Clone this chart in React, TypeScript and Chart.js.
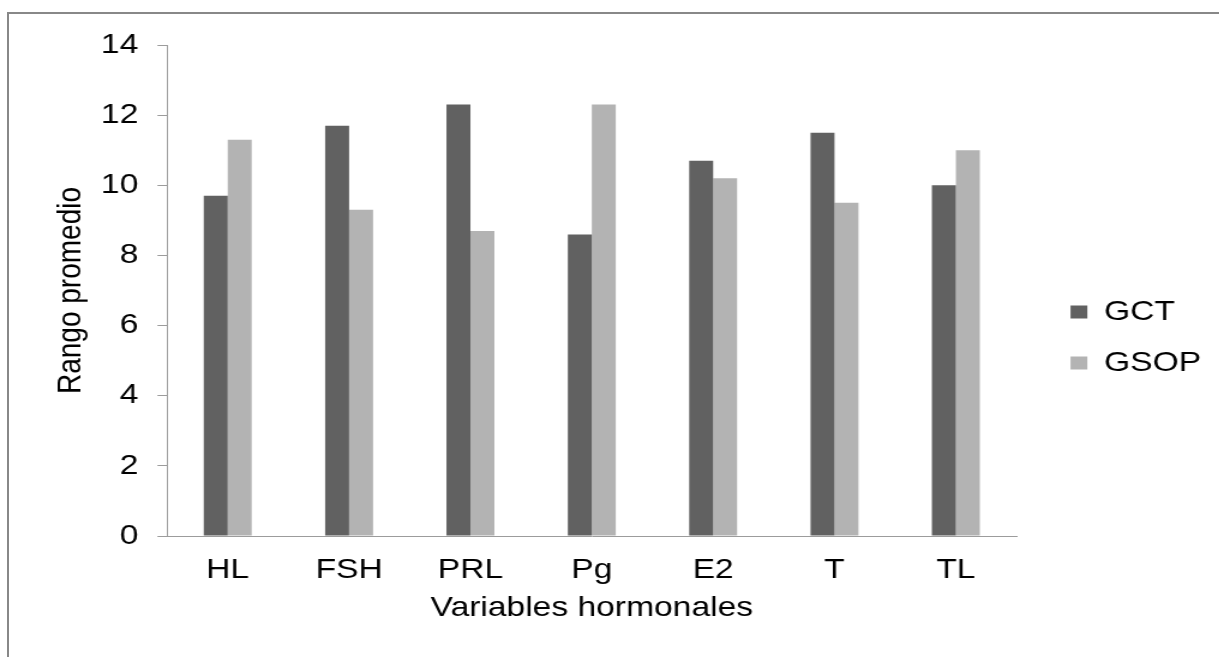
import React, { useEffect, useRef } from "react";
import { Chart, registerables } from "chart.js";

Chart.register(...registerables);

const categories = ["HL", "FSH", "PRL", "Pg", "E2", "T", "TL"];
const gctValues = [9.7, 11.7, 12.3, 8.6, 10.7, 11.5, 10.0];
const gsopValues = [11.3, 9.3, 8.7, 12.3, 10.2, 9.5, 11.0];
const seriesNames = ["GCT", "GSOP"];
const yTitle = "Rango promedio";
const xTitle = "Variables hormonales";

const STRETCH = 1.2;
const W = 1015;
const H = 657;
const FONT = "'Liberation Sans', Arial, sans-serif";

export default function App() {
  const ref = useRef<HTMLCanvasElement | null>(null);

  useEffect(() => {
    if (!ref.current) return;
    const legendShift = {
      id: "legendShift",
      afterLayout(chart: any) {
        const l = chart.legend;
        if (l) {
          l.left += 22;
          l.right += 22;
        }
      },
    };
    const chart = new Chart(ref.current, {
      type: "bar",
      data: {
        labels: categories,
        datasets: [
          {
            label: seriesNames[0],
            data: gctValues,
            backgroundColor: "#616161",
            borderWidth: 0,
            categoryPercentage: 0.395,
            barPercentage: 1,
          },
          {
            label: seriesNames[1],
            data: gsopValues,
            backgroundColor: "#b3b3b3",
            borderWidth: 0,
            categoryPercentage: 0.395,
            barPercentage: 1,
          },
        ],
      },
      plugins: [legendShift],
      options: {
        animation: false,
        responsive: true,
        maintainAspectRatio: false,
        layout: { padding: { left: 37, top: 45, right: 26, bottom: 27 } },
        plugins: {
          legend: {
            position: "right",
            align: "center",
            labels: {
              boxWidth: 14,
              boxHeight: 13,
              padding: 23,
              color: "#000",
              font: { family: FONT, size: 28 },
            },
          },
          tooltip: { enabled: false },
        },
        scales: {
          x: {
            afterFit: (s: any) => {
              s.height = H - 27 - 536;
            },
            grid: { display: true, drawOnChartArea: false, drawTicks: false },
            border: { display: true, color: "#9c9c9c", width: 1 },
            ticks: { color: "#000", padding: 17, font: { family: FONT, size: 28 }, maxRotation: 0 },
            title: {
              display: true,
              text: xTitle,
              color: "#000",
              font: { family: FONT, size: 28 },
              padding: { top: 5, bottom: 5 },
            },
          },
          y: {
            min: 0,
            max: 14,
            afterFit: (s: any) => {
              s.width = 139.2 - 37;
            },
            grid: {
              display: true,
              drawOnChartArea: false,
              drawTicks: true,
              tickLength: 8,
              color: "#9c9c9c",
              tickColor: "#9c9c9c",
            },
            border: { display: true, color: "#9c9c9c", width: 1 },
            ticks: { stepSize: 2, color: "#000", padding: 16, font: { family: FONT, size: 28 } },
            title: {
              display: true,
              text: yTitle,
              color: "#000",
              font: { family: FONT, size: 28 },
              padding: { top: 5, bottom: 5 },
            },
          },
        },
      },
    });
    return () => chart.destroy();
  }, []);

  return (
    <div style={{ position: "fixed", left: 0, top: 0, width: 1219, height: 657, overflow: "hidden", background: "#fff" }}>
      <div
        style={{
          position: "absolute",
          left: 7,
          top: 12,
          width: 1219 - 9,
          height: 657 - 14,
          borderLeft: "2px solid #888",
          borderTop: "2px solid #888",
        }}
      />
      <div
        style={{
          position: "absolute",
          left: 0,
          top: 0,
          width: W,
          height: H,
          transform: `scaleX(${STRETCH})`,
          transformOrigin: "0 0",
        }}
      >
        <canvas ref={ref} />
      </div>
    </div>
  );
}
